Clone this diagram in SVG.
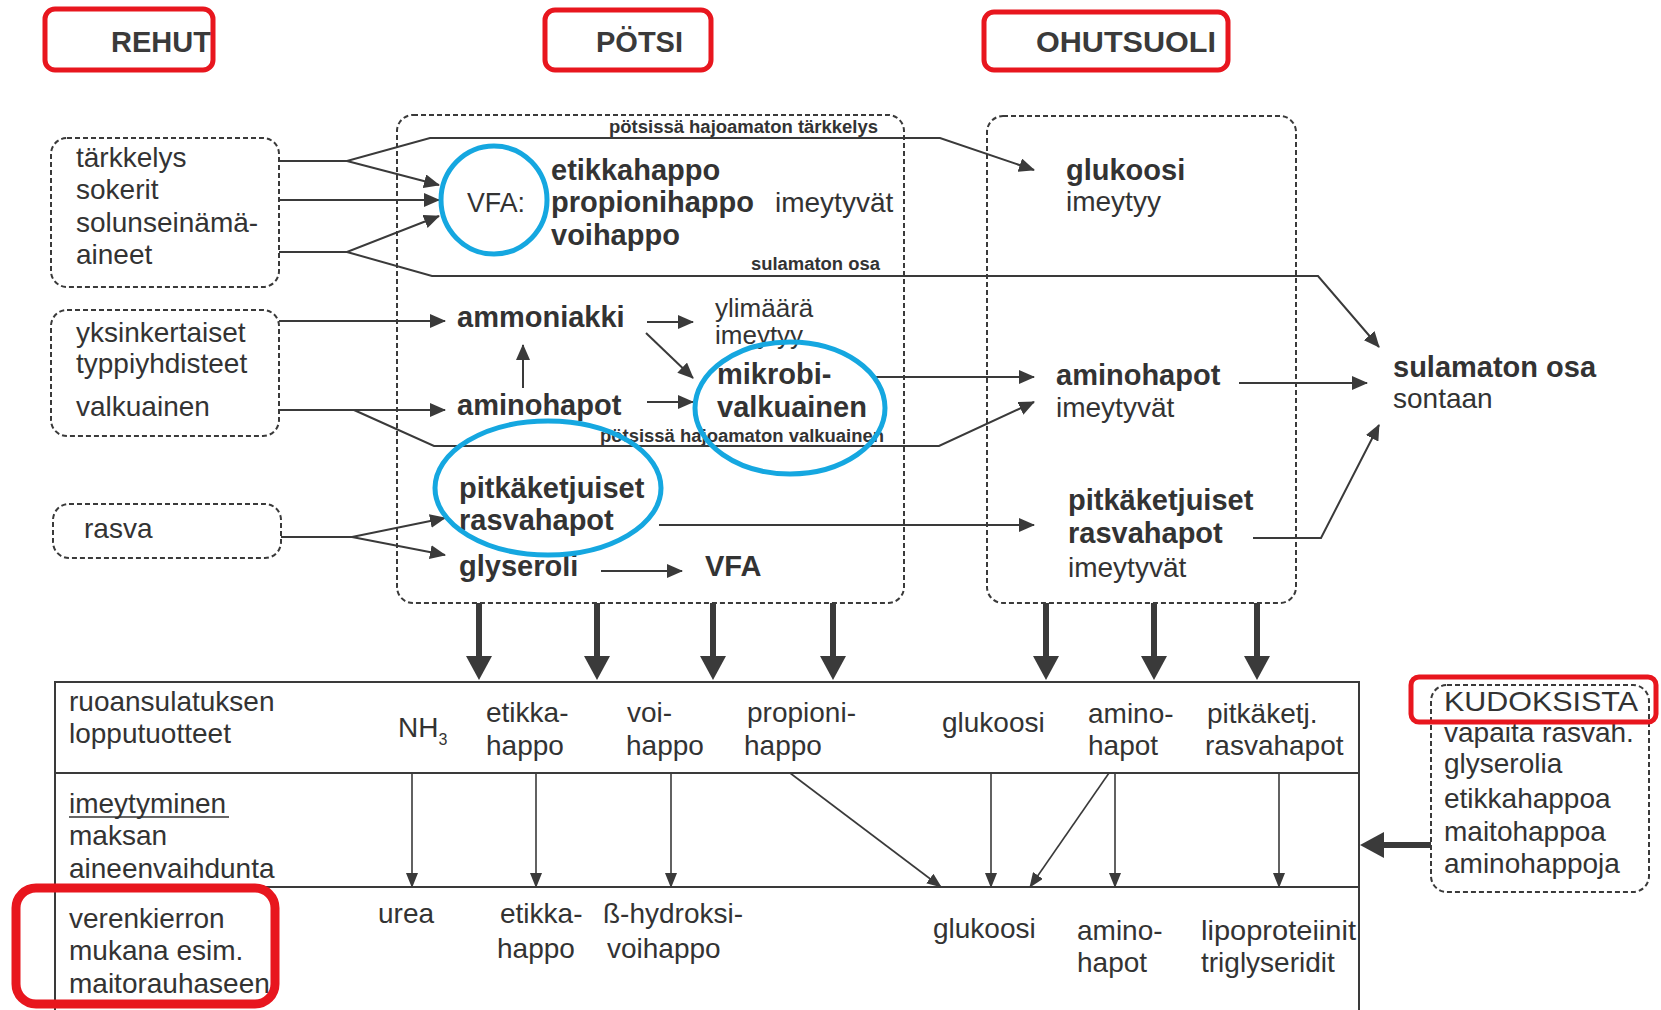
<svg xmlns="http://www.w3.org/2000/svg" width="1661" height="1010" viewBox="0 0 1661 1010">
<style>
text{font-family:"Liberation Sans",Arial,Helvetica,sans-serif;fill:#333;}
.t{font-size:28px;}
.b{font-size:29px;font-weight:bold;}
.s{font-size:18px;font-weight:bold;}
.h{font-size:29px;font-weight:bold;fill:#3a3a3a;}
.dash{fill:none;stroke:#3a3a3a;stroke-width:2;stroke-dasharray:5 3;}
.ln{fill:none;stroke:#3a3a3a;stroke-width:2;}
.thin{fill:none;stroke:#3a3a3a;stroke-width:1.6;}
.thick{fill:none;stroke:#3a3a3a;stroke-width:6;}
.tbl{fill:none;stroke:#3a3a3a;stroke-width:2;}
.red{fill:none;stroke:#e8161e;stroke-width:5;}
.blue{fill:none;stroke:#15a7e0;stroke-width:5;}
</style>
<defs>
<marker id="ah" markerUnits="userSpaceOnUse" markerWidth="18" markerHeight="14" refX="15" refY="7" orient="auto"><path d="M0,0 L16,7 L0,14 z" fill="#3a3a3a"/></marker>
<marker id="sm" markerUnits="userSpaceOnUse" markerWidth="16" markerHeight="12" refX="14" refY="6" orient="auto"><path d="M0,0 L15,6 L0,12 z" fill="#3a3a3a"/></marker>
<marker id="tk" markerUnits="userSpaceOnUse" markerWidth="26" markerHeight="26" refX="14" refY="13" orient="auto"><path d="M0,0 L24,13 L0,26 z" fill="#3a3a3a"/></marker>
</defs>
<rect width="1661" height="1010" fill="#ffffff"/>

<!-- section titles -->
<g id="title-rehut"><text class="h" x="111" y="52">REHUT</text></g>
<g id="title-potsi"><text class="h" x="596" y="52">PÖTSI</text></g>
<g id="title-ohutsuoli"><text class="h" x="1036" y="52" textLength="180" lengthAdjust="spacingAndGlyphs">OHUTSUOLI</text></g>

<!-- feed boxes -->
<g id="feed-carbs">
<rect class="dash" x="51" y="138" width="228" height="149" rx="16"/>
<text class="t" x="76" y="167">tärkkelys</text>
<text class="t" x="76" y="199">sokerit</text>
<text class="t" x="76" y="232">solunseinämä-</text>
<text class="t" x="76" y="264">aineet</text>
</g>
<g id="feed-protein">
<rect class="dash" x="51" y="310" width="228" height="126" rx="16"/>
<text class="t" x="76" y="342">yksinkertaiset</text>
<text class="t" x="76" y="373">typpiyhdisteet</text>
<text class="t" x="76" y="416">valkuainen</text>
</g>
<g id="feed-fat">
<rect class="dash" x="53" y="504" width="228" height="54" rx="16"/>
<text class="t" x="84" y="538">rasva</text>
</g>

<!-- rumen -->
<g id="rumen">
<rect class="dash" x="397" y="115" width="507" height="488" rx="16"/>
<text class="s" x="609" y="133" textLength="269" lengthAdjust="spacingAndGlyphs">pötsissä hajoamaton tärkkelys</text>
<text class="t" x="467" y="212" textLength="58" lengthAdjust="spacingAndGlyphs">VFA:</text>
<text class="b" x="551" y="180">etikkahappo</text>
<text class="b" x="551" y="212">propionihappo</text>
<text class="t" x="775" y="212">imeytyvät</text>
<text class="b" x="551" y="245">voihappo</text>
<text class="s" x="751" y="270" textLength="129" lengthAdjust="spacingAndGlyphs">sulamaton osa</text>
<text class="b" x="457" y="327">ammoniakki</text>
<text x="715" y="317" font-size="26">ylimäärä</text>
<text x="715" y="344" font-size="26">imeytyy</text>
<text class="b" x="457" y="415">aminohapot</text>
<text class="b" x="717" y="384">mikrobi-</text>
<text class="b" x="717" y="417">valkuainen</text>
<text class="s" x="600" y="442" textLength="284" lengthAdjust="spacingAndGlyphs">pötsissä hajoamaton valkuainen</text>
<text class="b" x="459" y="498">pitkäketjuiset</text>
<text class="b" x="459" y="530">rasvahapot</text>
<text class="b" x="459" y="576">glyseroli</text>
<text class="b" x="705" y="576">VFA</text>
</g>

<!-- small intestine -->
<g id="intestine">
<rect class="dash" x="987" y="116" width="309" height="487" rx="16"/>
<text class="b" x="1066" y="180">glukoosi</text>
<text class="t" x="1066" y="211">imeytyy</text>
<text class="b" x="1056" y="385">aminohapot</text>
<text class="t" x="1056" y="417">imeytyvät</text>
<text class="b" x="1068" y="510">pitkäketjuiset</text>
<text class="b" x="1068" y="543">rasvahapot</text>
<text class="t" x="1068" y="577">imeytyvät</text>
</g>

<g id="faeces">
<text class="b" x="1393" y="377">sulamaton osa</text>
<text class="t" x="1393" y="408">sontaan</text>
</g>

<!-- table -->
<g id="table">
<path class="tbl" d="M55,1010 V682 H1359 V1010"/>
<path class="tbl" d="M55,773 H1359 M55,887 H1359"/>
<text class="t" x="69" y="711">ruoansulatuksen</text>
<text class="t" x="69" y="743">lopputuotteet</text>
<text class="t" x="398" y="737">NH<tspan font-size="16" dy="8">3</tspan></text>
<text class="t" x="486" y="722">etikka-</text>
<text class="t" x="486" y="755">happo</text>
<text class="t" x="627" y="722">voi-</text>
<text class="t" x="626" y="755">happo</text>
<text class="t" x="747" y="722">propioni-</text>
<text class="t" x="744" y="755">happo</text>
<text class="t" x="942" y="732">glukoosi</text>
<text class="t" x="1088" y="723">amino-</text>
<text class="t" x="1088" y="755">hapot</text>
<text class="t" x="1207" y="723">pitkäketj.</text>
<text class="t" x="1205" y="755">rasvahapot</text>
<text class="t" x="69" y="813">imeytyminen</text>
<line x1="69" y1="817" x2="229" y2="817" stroke="#333" stroke-width="1.6"/>
<text class="t" x="69" y="845">maksan</text>
<text class="t" x="69" y="878">aineenvaihdunta</text>
<text class="t" x="69" y="928">verenkierron</text>
<text class="t" x="69" y="960">mukana esim.</text>
<text class="t" x="69" y="993">maitorauhaseen</text>
<text class="t" x="378" y="923">urea</text>
<text class="t" x="500" y="923">etikka-</text>
<text class="t" x="497" y="958">happo</text>
<text class="t" x="603" y="923">ß-hydroksi-</text>
<text class="t" x="607" y="958">voihappo</text>
<text class="t" x="933" y="938">glukoosi</text>
<text class="t" x="1077" y="940">amino-</text>
<text class="t" x="1077" y="972">hapot</text>
<text class="t" x="1201" y="940" textLength="155" lengthAdjust="spacingAndGlyphs">lipoproteiinit</text>
<text class="t" x="1201" y="972">triglyseridit</text>
</g>

<!-- tissues -->
<g id="tissues">
<rect class="dash" x="1431" y="685" width="218" height="207" rx="16"/>
<text class="t" x="1444" y="711" textLength="194" lengthAdjust="spacingAndGlyphs">KUDOKSISTA</text>
<text class="t" x="1444" y="742">vapaita rasvah.</text>
<text class="t" x="1444" y="773">glyserolia</text>
<text class="t" x="1444" y="808">etikkahappoa</text>
<text class="t" x="1444" y="841">maitohappoa</text>
<text class="t" x="1444" y="873">aminohappoja</text>
</g>

<!-- connectors -->
<g id="connectors">
<path class="ln" d="M279,161 H347 L430,138 H940 L1034,170" marker-end="url(#ah)"/>
<path class="ln" d="M347,161 L439,185" marker-end="url(#ah)"/>
<path class="ln" d="M279,200 H439" marker-end="url(#ah)"/>
<path class="ln" d="M279,252 H347 L439,216" marker-end="url(#ah)"/>
<path class="ln" d="M347,252 L432,276 H1318 L1379,347" marker-end="url(#ah)"/>
<path class="ln" d="M279,321 H445" marker-end="url(#ah)"/>
<path class="ln" d="M279,410 H445" marker-end="url(#ah)"/>
<path class="ln" d="M354,410 L434,446 H939 L1034,402" marker-end="url(#ah)"/>
<path class="ln" d="M281,537 H352 L445,518" marker-end="url(#ah)"/>
<path class="ln" d="M352,537 L445,555" marker-end="url(#ah)"/>
<path class="ln" d="M523,388 V345" marker-end="url(#ah)"/>
<path class="ln" d="M647,322 H693" marker-end="url(#ah)"/>
<path class="ln" d="M646,333 L693,378" marker-end="url(#ah)"/>
<path class="ln" d="M647,402 H693" marker-end="url(#ah)"/>
<path class="ln" d="M876,377 H1034" marker-end="url(#ah)"/>
<path class="ln" d="M659,525 H1034" marker-end="url(#ah)"/>
<path class="ln" d="M601,571 H682" marker-end="url(#ah)"/>
<path class="ln" d="M1239,383 H1367" marker-end="url(#ah)"/>
<path class="ln" d="M1253,538 H1321 L1379,425" marker-end="url(#ah)"/>

<path class="thick" d="M479,603 V670" marker-end="url(#tk)"/>
<path class="thick" d="M597,603 V670" marker-end="url(#tk)"/>
<path class="thick" d="M713,603 V670" marker-end="url(#tk)"/>
<path class="thick" d="M833,603 V670" marker-end="url(#tk)"/>
<path class="thick" d="M1046,603 V670" marker-end="url(#tk)"/>
<path class="thick" d="M1154,603 V670" marker-end="url(#tk)"/>
<path class="thick" d="M1257,603 V670" marker-end="url(#tk)"/>
<path class="thick" d="M1431,845 H1370" marker-end="url(#tk)"/>

<path class="thin" d="M412,773 V887" marker-end="url(#sm)"/>
<path class="thin" d="M536,773 V887" marker-end="url(#sm)"/>
<path class="thin" d="M671,773 V887" marker-end="url(#sm)"/>
<path class="thin" d="M790,773 L941,887" marker-end="url(#sm)"/>
<path class="thin" d="M991,773 V887" marker-end="url(#sm)"/>
<path class="thin" d="M1109,773 L1030,887" marker-end="url(#sm)"/>
<path class="thin" d="M1115,773 V887" marker-end="url(#sm)"/>
<path class="thin" d="M1279,773 V887" marker-end="url(#sm)"/>
</g>

<!-- highlight annotations -->
<g id="highlights">
<ellipse class="blue" cx="494" cy="200" rx="53" ry="54"/>
<ellipse class="blue" cx="790" cy="408" rx="95" ry="66"/>
<ellipse class="blue" cx="548" cy="488" rx="113" ry="67"/>
<rect class="red" x="45" y="9" width="168" height="61" rx="10"/>
<rect class="red" x="545" y="10" width="166" height="60" rx="10"/>
<rect class="red" x="984" y="12" width="244" height="58" rx="10"/>
<rect class="red" x="1411" y="677" width="245" height="45" rx="8"/>
<rect x="16" y="888" width="259" height="116" rx="20" fill="none" stroke="#e8161e" stroke-width="9"/>
</g>
</svg>
